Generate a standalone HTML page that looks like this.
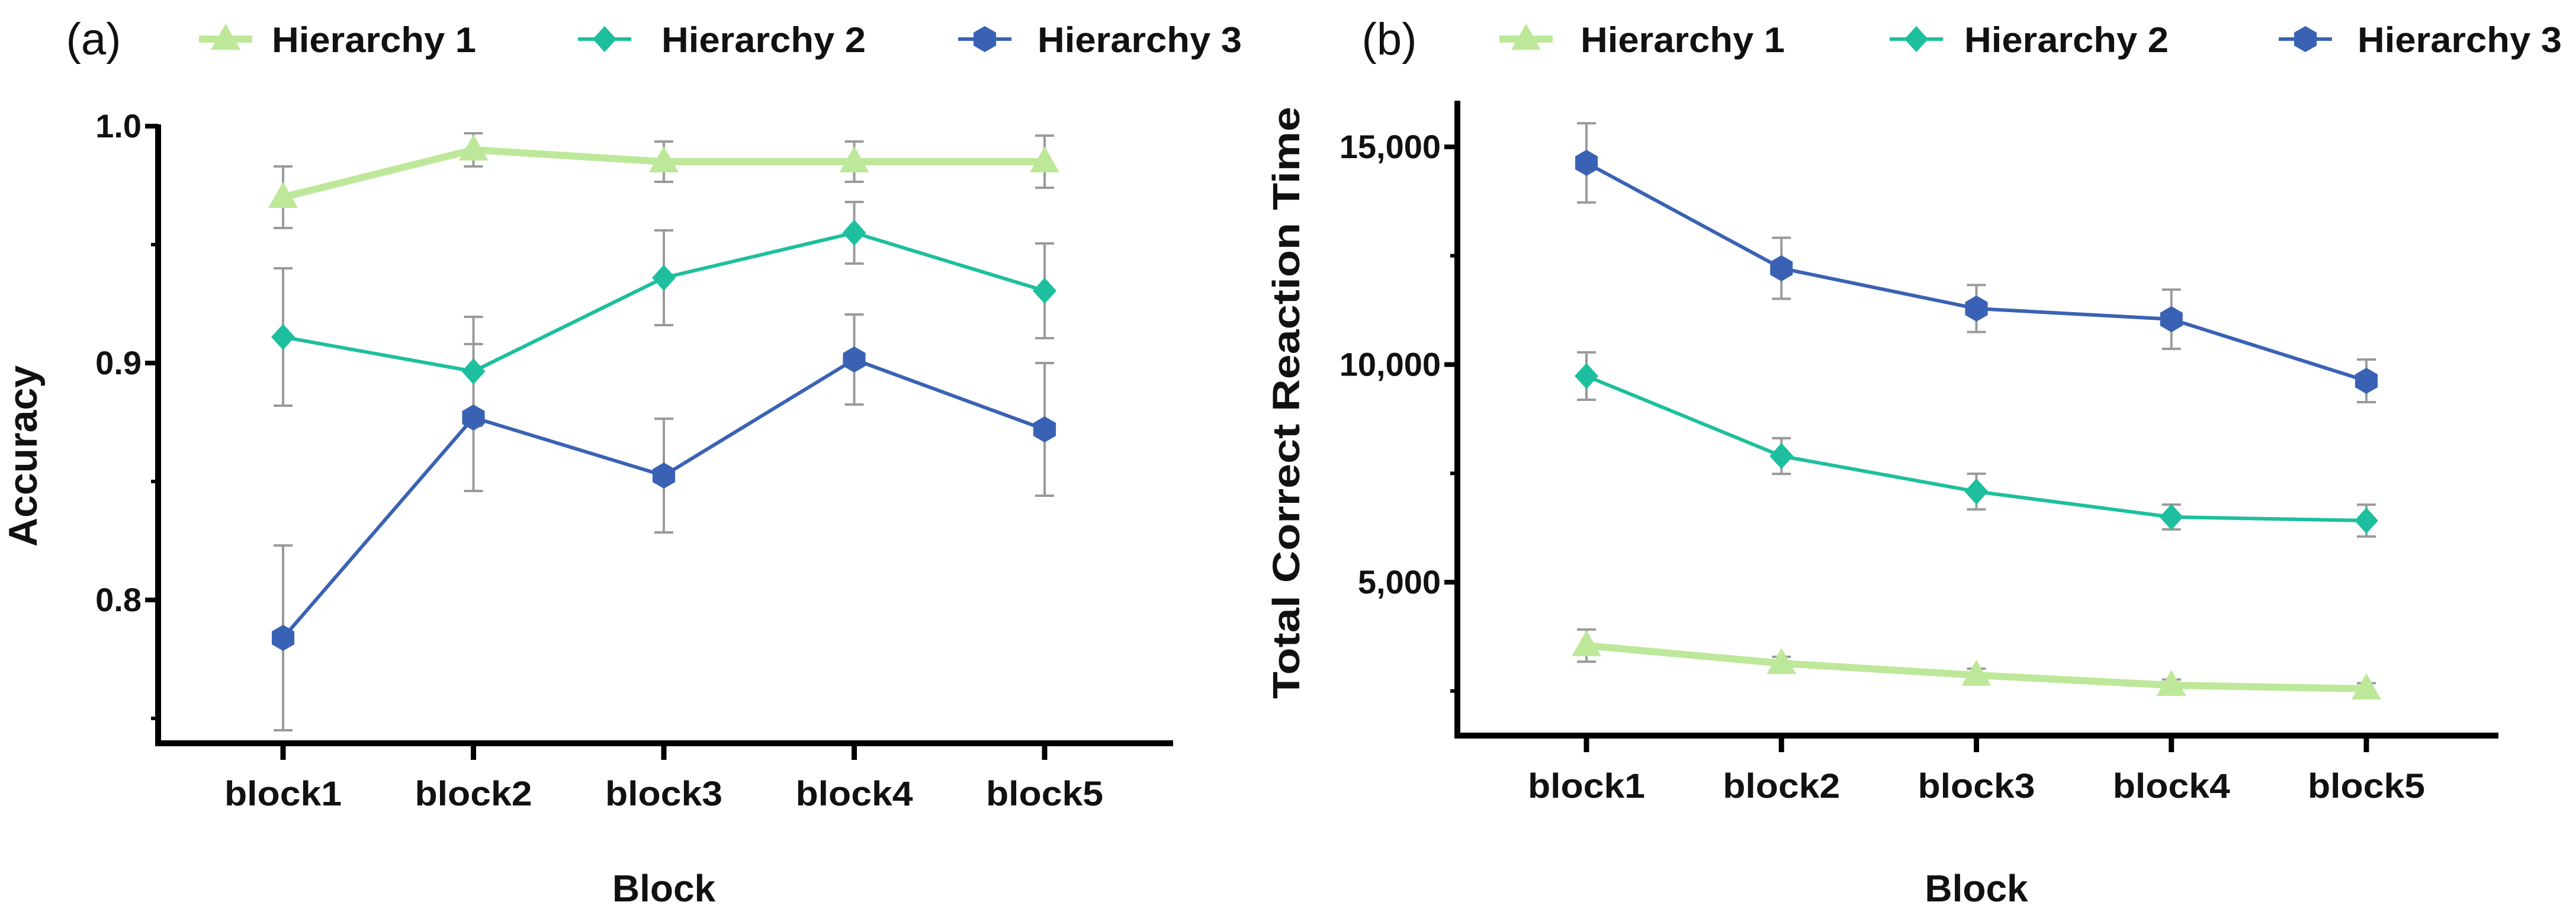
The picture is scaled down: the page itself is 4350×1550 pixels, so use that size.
<!DOCTYPE html>
<html><head><meta charset="utf-8"><style>
html,body{margin:0;padding:0;background:#fff;}
svg{display:block;font-family:"Liberation Sans",sans-serif;}
</style></head><body>
<svg id="fig" width="4350" height="1550" viewBox="0 0 4350 1550" xmlns="http://www.w3.org/2000/svg"></svg>
<script>
const categories = ["block1","block2","block3","block4","block5"];
const seriesNames = ["Hierarchy 1","Hierarchy 2","Hierarchy 3"];
// Panel (a) accuracy
const accH1 = [0.970,0.990,0.985,0.985,0.985];
const accH1Err = [0.013,0.007,0.0085,0.0085,0.011];
const accH2 = [0.911,0.8965,0.936,0.955,0.9305];
const accH2Err = [0.029,0.023,0.020,0.013,0.020];
const accH3 = [0.784,0.877,0.8525,0.9015,0.872];
const accH3Err = [0.039,0.031,0.024,0.019,0.028];
const accTicks = [0.8,0.9,1.0];
const accTickLabels = ["0.8","0.9","1.0"];
// Panel (b) reaction time
const rtH1 = [3544,3136,2864,2633,2551];
const rtH1Err = [370,150,150,130,130];
const rtH2 = [9735,7898,7082,6497,6415];
const rtH2Err = [545,410,410,285,365];
const rtH3 = [14633,12211,11286,11041,9626];
const rtH3Err = [910,700,540,680,490];
const rtTicks = [5000,10000,15000];
const rtTickLabels = ["5,000","10,000","15,000"];

const NS="http://www.w3.org/2000/svg";
const svg=document.getElementById('fig');
function el(tag,attrs,parent){const e=document.createElementNS(NS,tag);for(const k in attrs)e.setAttribute(k,attrs[k]);(parent||svg).appendChild(e);return e;}
const colors=["#bde89a","#1dbf9e","#3a62b4"];

function marker(g,type,x,y,c){
  let m;
  if(type===0){m=el('polygon',{points:`${x},${y-26} ${x+25},${y+18} ${x-25},${y+18}`,fill:c},g);}
  else if(type===1){m=el('polygon',{points:`${x},${y-22} ${x+20},${y} ${x},${y+22} ${x-20},${y}`,fill:c},g);}
  else {let p=[];for(let i=0;i<6;i++){const a=Math.PI/3*i+Math.PI/6;p.push((x+22*Math.cos(a))+","+(y+22*Math.sin(a)));}m=el('polygon',{points:p.join(' '),fill:c},g);}
  return m;
}

function panel(cfg){
  const g=el('g',{});
  
  
  const xs=i=>cfg.x0+i*cfg.dx;
  const ys=v=>cfg.yRef-(v-cfg.vRef)*cfg.k;
  // axes
  const ya=el('line',{x1:cfg.ax,y1:cfg.top,x2:cfg.ax,y2:cfg.bot+5,stroke:'#000','stroke-width':10},g);
  
  const xa=el('line',{x1:cfg.ax-5,y1:cfg.bot,x2:cfg.right,y2:cfg.bot,stroke:'#000','stroke-width':10},g);
  
  cfg.ticks.forEach((t,i)=>{
    el('line',{x1:cfg.ax-22,y1:ys(t),x2:cfg.ax,y2:ys(t),stroke:'#000','stroke-width':8},g);
    const tx=el('text',{x:cfg.ax-28,y:ys(t)+19,'text-anchor':'end','font-size':56,'font-weight':'bold',fill:'#111'},g);
    tx.textContent=cfg.tickLabels[i];
    
  });
  cfg.minor.forEach(t=>el('line',{x1:cfg.ax-12,y1:ys(t),x2:cfg.ax,y2:ys(t),stroke:'#000','stroke-width':6},g));
  categories.forEach((c,i)=>{
    el('line',{x1:xs(i),y1:cfg.bot,x2:xs(i),y2:cfg.bot+28,stroke:'#000','stroke-width':9},g);
    const tx=el('text',{x:xs(i),y:cfg.bot+105,'text-anchor':'middle','font-size':58,'font-weight':'bold',fill:'#111',textLength:198,lengthAdjust:'spacingAndGlyphs'},g);
    tx.textContent=c;
    
  });
  const xt=el('text',{x:xs(2),y:1522,'text-anchor':'middle','font-size':64,'font-weight':'bold',fill:'#111'},g);
  xt.textContent='Block';
  const yt=el('text',{x:0,y:0,'text-anchor':'middle','font-size':cfg.ytSize,'font-weight':'bold',fill:'#111',transform:`translate(${cfg.ytX},${cfg.ytY}) rotate(-90)`},g);
  if(cfg.ytLen){yt.setAttribute('textLength',cfg.ytLen);yt.setAttribute('lengthAdjust','spacingAndGlyphs');}
  yt.textContent=cfg.ytitle;
  // error bars
  cfg.series.forEach((s,si)=>{
    s.v.forEach((v,i)=>{
      const x=xs(i),y1=ys(v+s.e[i]),y2=ys(v-s.e[i]);
      const eb=el('path',{d:`M${x},${y1}V${y2}M${x-16},${y1}H${x+16}M${x-16},${y2}H${x+16}`,stroke:'#9a9a9a','stroke-width':4,fill:'none'},g);
      
    });
  });
  // lines & markers
  cfg.series.forEach((s,si)=>{
    const pts=s.v.map((v,i)=>xs(i)+","+ys(v)).join(' ');
    const pl=el('polyline',{points:pts,fill:'none',stroke:colors[si],'stroke-width':si===0?12:6,'stroke-linejoin':'round'},g);
    
    s.v.forEach((v,i)=>{
      const m=marker(g,si,xs(i),ys(v),colors[si]);
      
      
    });
  });
  // legend
  const lab=el('text',{x:cfg.labX,y:92,'font-size':76,fill:'#111','text-anchor':'middle'},g);
  lab.textContent=cfg.label;
  seriesNames.forEach((n,si)=>{
    const lg=el('g',{},g);
    
    
    const lx=cfg.legX[si];
    el('line',{x1:lx,y1:66,x2:lx+90,y2:66,stroke:colors[si],'stroke-width':si===0?12:6},lg);
    marker(lg,si,lx+45,66,colors[si]);
    const t=el('text',{x:cfg.legT[si],y:88,'font-size':60,'font-weight':'bold',fill:'#111',textLength:345,lengthAdjust:'spacingAndGlyphs'},lg);
    t.textContent=n;
  });
}

panel({name:'accuracy-chart',label:'(a)',labX:158,x0:478,dx:321.5,ax:267,right:1981,top:210,bot:1255,yRef:1013,vRef:0.8,k:4000,
  ticks:accTicks,tickLabels:accTickLabels,minor:[0.75,0.95,0.85],ytitle:'Accuracy',ytX:62,ytY:770,ytSize:68,
  legX:[336,976,1618],legT:[459,1117,1752],
  series:[{v:accH1,e:accH1Err},{v:accH2,e:accH2Err},{v:accH3,e:accH3Err}]});
panel({name:'reaction-time-chart',label:'(b)',labX:2346,x0:2679,dx:329.25,ax:2461,right:4219,top:170,bot:1242,yRef:983,vRef:5000,k:367.5/5000,
  ticks:rtTicks,tickLabels:rtTickLabels,minor:[2500,7500,12500],ytitle:'Total Correct Reaction Time',ytX:2194,ytY:680,ytSize:64,ytLen:1000,
  legX:[2532,3191,3848],legT:[2669,3317,3981],
  series:[{v:rtH1,e:rtH1Err},{v:rtH2,e:rtH2Err},{v:rtH3,e:rtH3Err}]});
</script>
</body></html>
